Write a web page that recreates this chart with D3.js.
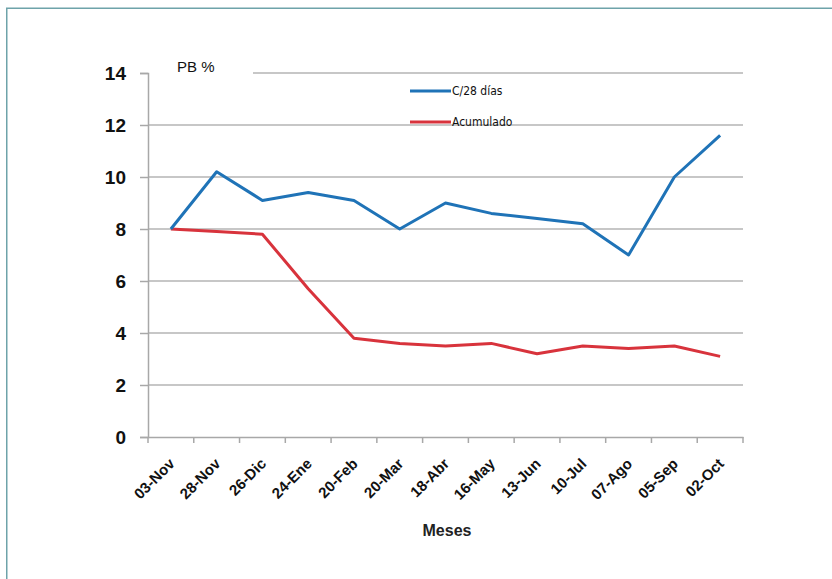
<!DOCTYPE html>
<html>
<head>
<meta charset="utf-8">
<script src="https://cdn.jsdelivr.net/npm/d3@7"></script>
<style>
  body { margin: 0; background: #fff; }
  svg { display: block; font-family: "Liberation Sans", Arial, sans-serif; }
</style>
</head>
<body>
<div id="canvas"></div>
<script>
"use strict";

/* Data */
let categories = ["03-Nov", "28-Nov", "26-Dic", "24-Ene", "20-Feb", "20-Mar", "18-Abr",
  "16-May", "13-Jun", "10-Jul", "07-Ago", "05-Sep", "02-Oct"];
let cada28 = [8.0, 10.2, 9.1, 9.4, 9.1, 8.0, 9.0, 8.6, 8.4, 8.2, 7.0, 10.0, 11.6];
let acumulado = [8.0, 7.9, 7.8, 5.7, 3.8, 3.6, 3.5, 3.6, 3.2, 3.5, 3.4, 3.5, 3.1];
let yTicks = [0, 2, 4, 6, 8, 10, 12, 14];
let seriesNames = ["C/28 días", "Acumulado"];

/* Drawing config */
let svgWidth = 832;
let svgHeight = 579;
let plotLeft = 148;
let plotRight = 743;
let plotTop = 73;
let plotBottom = 437;
let blue = "#1f73b7";
let red = "#d8333c";

let svg = d3.select("#canvas")
  .append("svg")
  .attr("width", svgWidth)
  .attr("height", svgHeight);

// outer frame (runs off the right and bottom edges)
svg.append("rect")
  .attr("x", 6.75)
  .attr("y", 8.25)
  .attr("width", 900)
  .attr("height", 700)
  .attr("fill", "none")
  .attr("stroke", "#6ea3aa")
  .attr("stroke-width", 1.5);

let xScale = d3.scaleBand()
  .domain(categories)
  .range([plotLeft, plotRight]);

let yScale = d3.scaleLinear()
  .domain([0, 14])
  .range([plotBottom, plotTop]);

/* Gridlines */
svg.append("g")
  .selectAll("line")
  .data(yTicks.filter(function (d) { return d > 0; }))
  .enter()
  .append("line")
  .attr("x1", function (d) { return d === 14 ? 253 : plotLeft; })
  .attr("x2", plotRight)
  .attr("y1", function (d) { return yScale(d); })
  .attr("y2", function (d) { return yScale(d); })
  .attr("stroke", "#b4b4b4")
  .attr("stroke-width", 1.5);

/* Y axis */
let yAxis = svg.append("g")
  .attr("transform", "translate(" + plotLeft + ",0)")
  .call(d3.axisLeft(yScale).tickValues(yTicks).tickSize(8).tickPadding(14));
yAxis.select(".domain").attr("stroke", "#a8a8a8").attr("stroke-width", 1.5);
yAxis.selectAll(".tick line").attr("stroke", "#a8a8a8").attr("stroke-width", 1.5);
yAxis.selectAll("text")
  .attr("font-size", "19px")
  .attr("font-weight", "bold")
  .attr("font-family", "'Liberation Sans', Arial, sans-serif")
  .attr("fill", "#111");

/* X axis */
let xAxis = svg.append("g")
  .attr("transform", "translate(0," + plotBottom + ")")
  .call(d3.axisBottom(xScale).tickSize(0).tickPadding(10));
xAxis.select(".domain").attr("stroke", "#a8a8a8").attr("stroke-width", 1.5);

// ticks sit between the categories
let bounds = d3.range(categories.length + 1).map(function (i) {
  return plotLeft + i * xScale.bandwidth();
});
svg.append("g")
  .selectAll("line")
  .data(bounds)
  .enter()
  .append("line")
  .attr("x1", function (d) { return d; })
  .attr("x2", function (d) { return d; })
  .attr("y1", plotBottom)
  .attr("y2", plotBottom + 6)
  .attr("stroke", "#a8a8a8")
  .attr("stroke-width", 1.5);

xAxis.selectAll("text")
  .attr("font-size", "15px")
  .attr("font-weight", "bold")
  .attr("font-family", "'Liberation Sans', Arial, sans-serif")
  .attr("fill", "#111")
  .attr("text-anchor", "end")
  .attr("dy", "0.35em")
  .attr("transform", "translate(1,24) rotate(-45)")
  .attr("y", 0)
  .attr("x", 0);

/* Lines */
let line = d3.line()
  .x(function (d, i) { return xScale(categories[i]) + xScale.bandwidth() / 2; })
  .y(function (d) { return yScale(d); });

svg.append("path")
  .datum(acumulado)
  .attr("d", line)
  .attr("fill", "none")
  .attr("stroke", red)
  .attr("stroke-width", 3)
  .attr("stroke-linejoin", "round");

svg.append("path")
  .datum(cada28)
  .attr("d", line)
  .attr("fill", "none")
  .attr("stroke", blue)
  .attr("stroke-width", 3)
  .attr("stroke-linejoin", "round");

/* Unit label */
svg.append("text")
  .attr("x", 177)
  .attr("y", 72)
  .attr("font-size", "15px")
  .attr("fill", "#111")
  .text("PB %");

/* Legend */
let legendColors = [blue, red];
for (let i = 0; i < seriesNames.length; i = i + 1) {
  let ly = 91 + i * 31;
  svg.append("line")
    .attr("x1", 410)
    .attr("x2", 451)
    .attr("y1", ly)
    .attr("y2", ly)
    .attr("stroke", legendColors[i])
    .attr("stroke-width", 3);
  svg.append("text")
    .attr("x", 452)
    .attr("y", ly + 4)
    .attr("font-size", "12px")
    .attr("font-family", "'Liberation Sans Narrow', 'DejaVu Sans Condensed', sans-serif")
    .attr("fill", "#111")
    .text(seriesNames[i]);
}

/* Axis title */
svg.append("text")
  .attr("x", 447)
  .attr("y", 536)
  .attr("text-anchor", "middle")
  .attr("font-size", "16px")
  .attr("font-weight", "bold")
  .attr("fill", "#222")
  .text("Meses");
</script>
</body>
</html>
